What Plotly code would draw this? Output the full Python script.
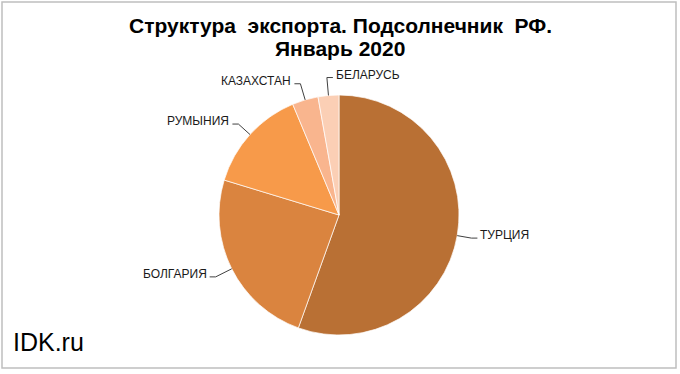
import math
import plotly.graph_objects as go

countries = ["ТУРЦИЯ", "БОЛГАРИЯ", "РУМЫНИЯ", "КАЗАХСТАН", "БЕЛАРУСЬ"]
shares = [55.5, 24.2, 14.0, 3.5, 2.8]
colors = ["#B97034", "#DA843F", "#F79A4A", "#F9B58E", "#FBCFB5"]
label_side = [1, -1, -1, -1, 1]      # which side of the leader line the label sits
label_k = [1.12, 1.15, 1.13, 1.14, 1.15]

W, H = 680, 374
CX, CY, R = 339, 215, 120  # pie geometry in pixels

def px(x):
    return x / W

def py(y):
    return 1 - y / H

fig = go.Figure()
fig.add_trace(go.Pie(
    labels=countries, values=shares, sort=False, direction="clockwise",
    rotation=0, marker=dict(colors=colors, line=dict(color="white", width=0.7)),
    textinfo="none", hoverinfo="label+percent", showlegend=False,
    domain=dict(x=[px(CX - R), px(CX + R)], y=[py(CY + R), py(CY - R)]),
))

shapes = []
annotations = []
total = sum(shares)
cum = 0.0
for name, v, side, k in zip(countries, shares, label_side, label_k):
    mid = (cum + v / 2) / total * 2 * math.pi
    cum += v
    s, c = math.sin(mid), math.cos(mid)
    ex, ey = CX + R * s, CY - R * c
    bx, by = CX + R * k * s, CY - R * k * c
    hx = bx + side * 6
    shapes.append(dict(type="line", xref="paper", yref="paper",
                       x0=px(ex), y0=py(ey), x1=px(bx), y1=py(by),
                       line=dict(color="#404040", width=1)))
    shapes.append(dict(type="line", xref="paper", yref="paper",
                       x0=px(bx), y0=py(by), x1=px(hx), y1=py(by),
                       line=dict(color="#404040", width=1)))
    annotations.append(dict(x=px(hx + side * 1), y=py(by - 3), xref="paper", yref="paper",
                            text=name, showarrow=False,
                            xanchor="left" if side > 0 else "right", yanchor="middle",
                            font=dict(family="Liberation Sans, Arial", size=12, color="#1a1a1a")))

title_lines = ["Структура\u00a0\u00a0экспорта. Подсолнечник\u00a0\u00a0РФ.", "Январь 2020"]
for i, t in enumerate(title_lines):
    annotations.append(dict(x=px(340), y=py(25 + 23 * i), xref="paper", yref="paper",
                            text="<b>" + t + "</b>", showarrow=False,
                            xanchor="center", yanchor="middle",
                            font=dict(family="Liberation Sans, Arial", size=21, color="#000000")))
annotations.append(dict(x=px(11), y=py(342), xref="paper", yref="paper",
                        text="IDK.ru", showarrow=False, xanchor="left", yanchor="middle",
                        font=dict(family="Liberation Sans, Arial", size=25, color="#000000")))

shapes.append(dict(type="rect", xref="paper", yref="paper",
                   x0=px(2), y0=py(368), x1=px(676), y1=py(2),
                   line=dict(color="#BFBFBF", width=1.5), fillcolor="rgba(0,0,0,0)"))

fig.update_layout(width=W, height=H, margin=dict(l=0, r=0, t=0, b=0),
                  paper_bgcolor="white", plot_bgcolor="white",
                  shapes=shapes, annotations=annotations)
fig.write_html("out.html")
